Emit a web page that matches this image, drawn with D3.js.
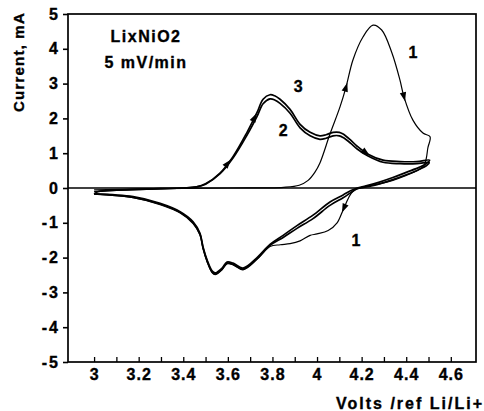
<!DOCTYPE html>
<html>
<head>
<meta charset="utf-8">
<script src="https://cdn.jsdelivr.net/npm/d3@7"></script>
<style>
  body { margin: 0; background: #fff; }
  text { font-family: "Liberation Sans", Arial, sans-serif; font-weight: bold; fill: #000; stroke: #000; stroke-width: 0.35px; }
</style>
</head>
<body>
<script>
const w = 484;
const h = 411;

// volts vs current (mA)
const cycle1 = [
  [3.0,-0.05],[3.3,-0.02],[3.6,0],[3.85,0.02],[3.92,0.08],[3.96,0.22],[3.99,0.45],[4.013,0.72],
  [4.058,1.55],[4.103,2.33],[4.13,2.9],[4.161,3.68],[4.206,4.34],[4.251,4.68],[4.29,4.54],
  [4.336,3.88],[4.372,3.1],[4.39,2.62],[4.43,1.95],[4.475,1.58],[4.507,1.47],[4.497,1.15],
  [4.49,0.85],[4.48,0.65],[4.45,0.5],[4.40,0.36],[4.34,0.22],[4.28,0.12],[4.2,0.02],[4.16,-0.1],[4.14,-0.3],
  [4.117,-0.63],[4.09,-1.0],[4.05,-1.22],[4.0,-1.32],[3.969,-1.36],[3.924,-1.52],[3.879,-1.6],
  [3.835,-1.63],[3.789,-1.68],[3.731,-2.05],[3.668,-2.35],[3.623,-2.21],[3.596,-2.18],
  [3.574,-2.35],[3.543,-2.49],[3.529,-2.43],[3.507,-2.12],[3.489,-1.75],[3.475,-1.35],
  [3.444,-1.02],[3.386,-0.72],[3.296,-0.48],[3.175,-0.28],[3.0,-0.18]
];

const cycle2 = [
  [3.0,-0.17],[3.02,-0.1],[3.1,-0.06],[3.2,-0.04],[3.3,-0.02],[3.4,0],[3.46,0.03],[3.5,0.11],
  [3.565,0.41],[3.623,0.86],[3.686,1.52],[3.731,2.06],[3.758,2.42],[3.789,2.56],[3.81,2.53],
  [3.834,2.43],[3.879,2.15],[3.924,1.73],[3.969,1.5],[4.013,1.4],[4.04,1.43],[4.072,1.5],
  [4.1,1.5],[4.117,1.45],[4.15,1.29],[4.18,1.12],[4.229,0.92],[4.296,0.74],[4.372,0.7],
  [4.448,0.7],[4.503,0.73],[4.49,0.64],[4.46,0.54],[4.40,0.38],[4.34,0.24],[4.28,0.12],
  [4.22,0.03],[4.18,-0.02],[4.15,-0.14],[4.117,-0.28],[4.058,-0.5],[3.982,-0.88],[3.91,-1.16],
  [3.848,-1.42],[3.789,-1.65],[3.731,-2.03],[3.668,-2.33],[3.623,-2.19],[3.596,-2.16],
  [3.574,-2.33],[3.543,-2.47],[3.529,-2.41],[3.507,-2.1],[3.489,-1.73],[3.475,-1.33],
  [3.444,-1.0],[3.386,-0.7],[3.296,-0.46],[3.175,-0.27],[3.0,-0.17]
];

const cycle3 = [
  [3.0,-0.1],[3.1,-0.06],[3.2,-0.04],[3.3,-0.02],[3.4,0],[3.46,0.03],[3.5,0.12],[3.565,0.43],
  [3.623,0.9],[3.686,1.6],[3.731,2.17],[3.758,2.55],[3.789,2.68],[3.81,2.65],[3.834,2.55],
  [3.879,2.26],[3.924,1.83],[3.969,1.6],[4.013,1.5],[4.04,1.53],[4.072,1.6],[4.1,1.6],
  [4.117,1.55],[4.15,1.38],[4.18,1.2],[4.229,0.97],[4.296,0.8],[4.372,0.76],[4.448,0.76],
  [4.505,0.8],[4.49,0.7],[4.46,0.6],[4.40,0.45],[4.34,0.3],[4.28,0.17],[4.22,0.06],[4.18,0],
  [4.15,-0.08],[4.117,-0.2],[4.058,-0.4],[3.982,-0.78],[3.91,-1.08],[3.848,-1.36],
  [3.789,-1.62],[3.731,-2.0],[3.668,-2.3],[3.623,-2.16],[3.596,-2.13],[3.574,-2.3],
  [3.543,-2.44],[3.529,-2.38],[3.507,-2.07],[3.489,-1.7],[3.475,-1.3],[3.444,-0.97],
  [3.386,-0.68],[3.296,-0.44],[3.175,-0.25],[3.0,-0.17]
];

// arrow heads: curve, volts, scan direction (+1 anodic, -1 cathodic)
const arrows = [
  ["c3", 3.6, 1], ["c3", 3.72, 1], ["c3", 4.22, 1],
  ["c1", 4.13, 1], ["c1", 4.39, 1], ["c1", 4.12, -1]
];

// curve numbers: text, volts, mA
const curveLabels = [
  ["1", 4.43, 3.9], ["3", 3.915, 2.93], ["2", 3.848, 1.64], ["1", 4.175, -1.52]
];

const xMinor = d3.range(30, 47).map(d => d / 10);
const xTickLabels = ["3","3.2","3.4","3.6","3.8","4","4.2","4.4","4.6"];
const yTicks = [-5,-4,-3,-2,-1,0,1,2,3,4,5];

const x = d3.scaleLinear().domain([2.883, 4.713]).range([68, 476]);
const y = d3.scaleLinear().domain([-5, 5]).range([362, 14]);

const svg = d3.select("body").append("svg")
  .attr("width", w)
  .attr("height", h);

// zero line
svg.append("line")
  .attr("x1", x.range()[0]).attr("x2", x.range()[1])
  .attr("y1", y(0)).attr("y2", y(0))
  .attr("stroke", "#000").attr("stroke-width", 1.3);

const line = d3.line()
  .x(d => x(d[0]))
  .y(d => y(d[1]))
  .curve(d3.curveCatmullRom.alpha(0.5));

const curves = { c1: cycle1, c2: cycle2, c3: cycle3 };

svg.append("path").datum(cycle2).attr("d", line)
  .attr("fill", "none").attr("stroke", "#000").attr("stroke-width", 1.7);
svg.append("path").datum(cycle3).attr("d", line)
  .attr("fill", "none").attr("stroke", "#000").attr("stroke-width", 1.7);
svg.append("path").datum(cycle1).attr("d", line)
  .attr("fill", "none").attr("stroke", "#000").attr("stroke-width", 1.2);

function arrowAt(pts, v, dir) {
  for (let i = 0; i < pts.length - 1; i++) {
    let a = pts[i], b = pts[i + 1];
    if ((b[0] - a[0]) * dir > 0 && (v - a[0]) * (v - b[0]) <= 0) {
      let t = (v - a[0]) / (b[0] - a[0]);
      let px = x(a[0]) + t * (x(b[0]) - x(a[0]));
      let py = y(a[1]) + t * (y(b[1]) - y(a[1]));
      let ang = Math.atan2(y(b[1]) - y(a[1]), x(b[0]) - x(a[0])) * 180 / Math.PI;
      return [px, py, ang];
    }
  }
  return null;
}

arrows.forEach(function(a) {
  let p = arrowAt(curves[a[0]], a[1], a[2]);
  if (!p) return;
  svg.append("path")
    .attr("d", "M4.5,0 L-4.5,-3.2 L-4.5,3.2 Z")
    .attr("transform", "translate(" + p[0] + "," + p[1] + ") rotate(" + p[2] + ")")
    .attr("fill", "#000");
});

// frame
svg.append("rect")
  .attr("x", x.range()[0]).attr("y", y.range()[1])
  .attr("width", x.range()[1] - x.range()[0])
  .attr("height", y.range()[0] - y.range()[1])
  .attr("fill", "none").attr("stroke", "#000").attr("stroke-width", 1.7);

// x axis, ticks pointing inwards
const xAxis = svg.append("g")
  .attr("transform", "translate(0," + y.range()[0] + ")")
  .call(d3.axisBottom(x)
    .tickValues(xMinor)
    .tickSizeInner(-5)
    .tickSizeOuter(0)
    .tickPadding(7)
    .tickFormat(d => {
      let s = String(+d.toFixed(1));
      return xTickLabels.indexOf(s) >= 0 ? s : "";
    }));
xAxis.select(".domain").remove();
xAxis.selectAll("line").attr("stroke-width", 1.3);
xAxis.selectAll("text")
  .style("font-size", "16px")
  .style("letter-spacing", "1px")
  .style("font-family", "'Liberation Sans', Arial, sans-serif")
  .style("font-weight", "bold");

const yAxis = svg.append("g")
  .attr("transform", "translate(" + x.range()[0] + ",0)")
  .call(d3.axisLeft(y)
    .tickValues(yTicks)
    .tickSizeInner(5)
    .tickSizeOuter(0)
    .tickPadding(3)
    .tickFormat(d => d < 0 ? "-" + Math.abs(d) : String(d)));
yAxis.select(".domain").remove();
yAxis.selectAll("line").attr("stroke-width", 1.6);
yAxis.selectAll("text")
  .style("font-size", "16px")
  .style("letter-spacing", "2px")
  .style("font-family", "'Liberation Sans', Arial, sans-serif")
  .style("font-weight", "bold");

// axis titles
svg.append("text")
  .attr("transform", "translate(24,62) rotate(-90)")
  .attr("text-anchor", "middle")
  .style("font-size", "15px")
  .style("letter-spacing", "1.2px")
  .text("Current, mA");

svg.append("text")
  .attr("x", 484).attr("y", 409)
  .attr("text-anchor", "end")
  .style("font-size", "16px")
  .style("letter-spacing", "2px")
  .text("Volts /ref Li/Li+");

svg.append("text")
  .attr("x", 146).attr("y", 42)
  .attr("text-anchor", "middle")
  .style("font-size", "16px")
  .style("letter-spacing", "1.5px")
  .text("LixNiO2");

svg.append("text")
  .attr("x", 146).attr("y", 68)
  .attr("text-anchor", "middle")
  .style("font-size", "16px")
  .style("letter-spacing", "1.5px")
  .text("5 mV/min");

svg.selectAll(".clabel")
  .data(curveLabels)
  .enter()
  .append("text")
  .attr("class", "clabel")
  .attr("x", d => x(d[1]))
  .attr("y", d => y(d[2]))
  .attr("text-anchor", "middle")
  .attr("dominant-baseline", "central")
  .style("font-size", "16px")
  .text(d => d[0]);
</script>
</body>
</html>
